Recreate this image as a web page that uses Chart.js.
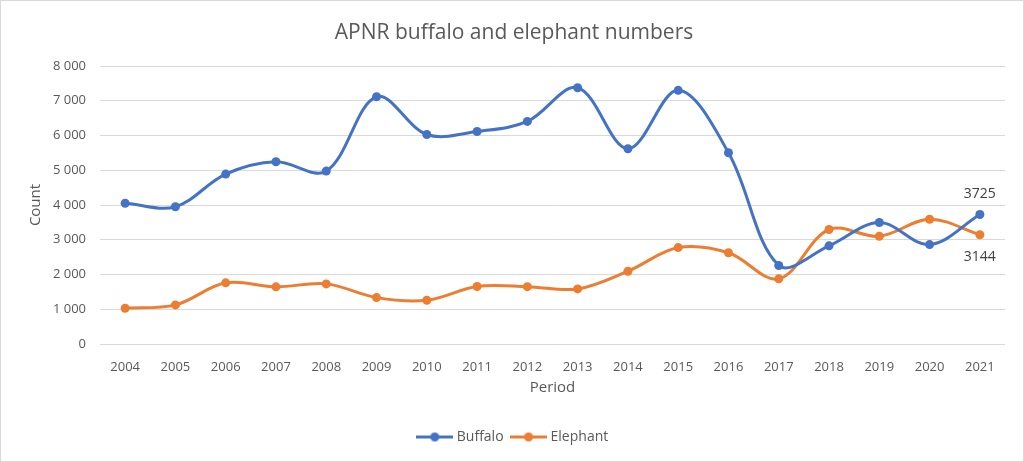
<!DOCTYPE html>
<html>
<head>
<meta charset="utf-8">
<script src="https://cdn.jsdelivr.net/npm/chart.js@4"></script>
<style>
  html, body { margin: 0; padding: 0; background: #fff; }
  .frame { width: 1024px; height: 462px; box-sizing: border-box; border: 1px solid #d9d9d9; position: relative; }
  canvas { position: absolute; left: 0; top: 0; }
</style>
</head>
<body>
<div class="frame"><canvas id="chart" width="1024" height="462"></canvas></div>
<script>
const years = ['2004', '2005', '2006', '2007', '2008', '2009', '2010', '2011', '2012',
    '2013', '2014', '2015', '2016', '2017', '2018', '2019', '2020', '2021'];
const buffalo = [4050, 3950, 4890, 5245, 4975, 7115, 6030, 6115, 6405,
    7375, 5620, 7300, 5505, 2260, 2825, 3495, 2860, 3725];
const elephant = [1030, 1125, 1760, 1645, 1730, 1335, 1260, 1655, 1650,
    1585, 2095, 2775, 2625, 1875, 3295, 3100, 3590, 3144];
const yTicks = [0, 1000, 2000, 3000, 4000, 5000, 6000, 7000, 8000];

const BLUE = '#4472C4';
const ORANGE = '#ED7D31';
const TEXT = '#595959';
const FONT = "'Open Sans', 'Noto Sans', sans-serif";

// little line+dot icon for the legend, like Excel draws it
function legendIcon(color) {
    const c = document.createElement('canvas');
    c.width = 37;
    c.height = 11;
    const g = c.getContext('2d');
    g.strokeStyle = color;
    g.lineWidth = 3;
    g.beginPath();
    g.moveTo(0, 5.5);
    g.lineTo(37, 5.5);
    g.stroke();
    g.fillStyle = color;
    g.beginPath();
    g.arc(18.5, 5.5, 4.5, 0, Math.PI * 2);
    g.fill();
    return c;
}
const icons = [legendIcon(BLUE), legendIcon(ORANGE)];

// value labels on the last point of each series
const lastLabels = {
    id: 'lastLabels',
    afterDatasetsDraw(chart) {
        const ctx = chart.ctx;
        ctx.save();
        ctx.font = "14px " + FONT;
        ctx.fillStyle = '#404040';
        ctx.textAlign = 'center';
        ctx.textBaseline = 'middle';
        chart.data.datasets.forEach((ds, i) => {
            const meta = chart.getDatasetMeta(i);
            const last = meta.data[meta.data.length - 1];
            const value = ds.data[ds.data.length - 1];
            const dy = i === 0 ? -21 : 22;
            ctx.fillText(String(value), last.x, last.y + dy);
        });
        ctx.restore();
    }
};

const ctx = document.getElementById('chart').getContext('2d');
new Chart(ctx, {
    type: 'line',
    data: {
        labels: years,
        datasets: [
            {
                label: 'Buffalo',
                data: buffalo,
                borderColor: BLUE,
                backgroundColor: BLUE,
                borderWidth: 3,
                pointRadius: 4.5,
                pointBorderWidth: 0,
                tension: 0.35,
            },
            {
                label: 'Elephant',
                data: elephant,
                borderColor: ORANGE,
                backgroundColor: ORANGE,
                borderWidth: 3,
                pointRadius: 4.5,
                pointBorderWidth: 0,
                tension: 0.35,
            },
        ],
    },
    options: {
        responsive: false,
        animation: false,
        layout: {
            padding: { left: 22, right: 20, top: 0, bottom: 9 }
        },
        plugins: {
            title: {
                display: true,
                text: 'APNR buffalo and elephant numbers',
                color: TEXT,
                font: { family: FONT, size: 21, weight: 'normal' },
                padding: { top: 19, bottom: 20.8 }
            },
            legend: {
                position: 'bottom',
                labels: {
                    usePointStyle: true,
                    pointStyleWidth: 30,
                    padding: 10,
                    color: TEXT,
                    font: { family: FONT, size: 14 },
                    generateLabels: (chart) =>
                        Chart.defaults.plugins.legend.labels.generateLabels(chart)
                            .map((l, i) => ({ ...l, pointStyle: icons[i] }))
                }
            },
            tooltip: { enabled: false }
        },
        scales: {
            x: {
                offset: true,
                afterFit: (scale) => { scale.height = 76; },
                grid: { display: false, drawTicks: false },
                border: { display: false },
                ticks: {
                    color: TEXT,
                    padding: 15,
                    maxRotation: 0,
                    font: { family: FONT, size: 13 }
                },
                title: {
                    display: true,
                    text: 'Period',
                    color: TEXT,
                    font: { family: FONT, size: 15 },
                    padding: { top: 4, bottom: 23 }
                }
            },
            y: {
                min: 0,
                max: 8000,
                afterFit: (scale) => { scale.width = 77; },
                afterBuildTicks: (scale) => {
                    scale.ticks = yTicks.map(v => ({ value: v }));
                },
                grid: { color: '#d9d9d9', lineWidth: 1, drawTicks: false },
                border: { display: false },
                ticks: {
                    color: TEXT,
                    padding: 14,
                    font: { family: FONT, size: 13 },
                    callback: (v) => String(v).replace(/\B(?=(\d{3})+(?!\d))/g, ' ')
                },
                title: {
                    display: true,
                    text: 'Count',
                    color: TEXT,
                    font: { family: FONT, size: 15 },
                    padding: { top: 4, bottom: 4 }
                }
            }
        }
    },
    plugins: [lastLabels]
});
</script>
</body>
</html>
